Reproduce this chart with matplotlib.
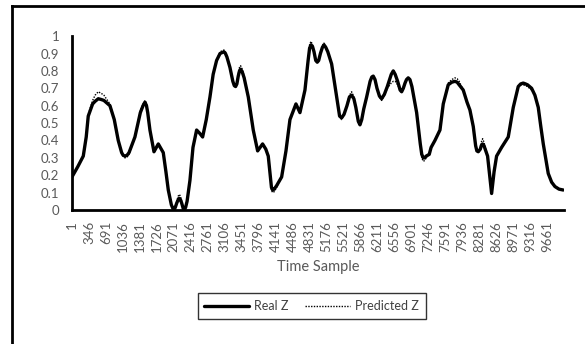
import matplotlib.pyplot as plt
from matplotlib.lines import Line2D

# values (sample index, real Z, predicted Z)
sample = [0, 120, 230, 290, 331, 420, 470, 535, 600, 650,
          772, 860, 941, 1010, 1040, 1077, 1120, 1160, 1280, 1390,
          1445, 1484, 1515, 1540, 1585, 1667, 1755, 1856, 1910, 1958,
          2020, 2050, 2073, 2100, 2130, 2160, 2181, 2205, 2230, 2260,
          2283, 2310, 2340, 2398, 2460, 2534, 2600, 2656, 2730, 2805,
          2870, 2940, 3010, 3050, 3089, 3120, 3150, 3211, 3270, 3300,
          3326, 3352, 3380, 3405, 3428, 3460, 3500, 3584, 3685, 3774,
          3875, 3940, 3990, 4030, 4055, 4079, 4110, 4160, 4262, 4350,
          4431, 4553, 4634, 4736, 4800, 4830, 4858, 4890, 4920, 4955,
          4986, 5015, 5050, 5090, 5122, 5160, 5200, 5278, 5380, 5440,
          5481, 5530, 5590, 5640, 5685, 5730, 5770, 5820, 5854, 5890,
          5930, 5990, 6060, 6095, 6124, 6160, 6200, 6250, 6294, 6350,
          6410, 6490, 6531, 6570, 6620, 6670, 6701, 6735, 6770, 6800,
          6835, 6870, 6910, 7006, 7080, 7110, 7141, 7170, 7200, 7262,
          7300, 7378, 7480, 7547, 7648, 7720, 7784, 7830, 7870, 7953,
          8030, 8089, 8157, 8205, 8230, 8258, 8300, 8320, 8347, 8375,
          8400, 8448, 8490, 8530, 8580, 8631, 8733, 8868, 8970, 9071,
          9120, 9173, 9220, 9260, 9343, 9410, 9478, 9530, 9580, 9681,
          9750, 9817, 9900, 9986]
real_z = [0.19, 0.25, 0.31, 0.42, 0.54, 0.61, 0.625, 0.64, 0.635, 0.63,
          0.60, 0.52, 0.40, 0.33, 0.315, 0.31, 0.315, 0.33, 0.42, 0.56,
          0.60, 0.62, 0.60, 0.56, 0.46, 0.335, 0.38, 0.33, 0.22, 0.115,
          0.03, 0.01, 0.0, 0.015, 0.04, 0.06, 0.067, 0.06, 0.04, 0.01,
          0.0, 0.015, 0.05, 0.17, 0.36, 0.46, 0.44, 0.42, 0.52, 0.65,
          0.78, 0.86, 0.90, 0.905, 0.91, 0.90, 0.88, 0.82, 0.74, 0.715,
          0.71, 0.725, 0.77, 0.80, 0.81, 0.795, 0.76, 0.65, 0.46, 0.34,
          0.38, 0.35, 0.31, 0.20, 0.13, 0.115, 0.12, 0.14, 0.19, 0.34,
          0.52, 0.61, 0.56, 0.69, 0.86, 0.93, 0.95, 0.94, 0.91, 0.86,
          0.85, 0.86, 0.90, 0.935, 0.95, 0.935, 0.91, 0.84, 0.65, 0.54,
          0.53, 0.55, 0.60, 0.65, 0.66, 0.64, 0.59, 0.51, 0.49, 0.52,
          0.58, 0.65, 0.74, 0.765, 0.77, 0.75, 0.70, 0.655, 0.64, 0.665,
          0.71, 0.78, 0.80, 0.78, 0.74, 0.69, 0.68, 0.70, 0.73, 0.75,
          0.76, 0.75, 0.71, 0.56, 0.38, 0.32, 0.30, 0.30, 0.31, 0.32,
          0.36, 0.40, 0.46, 0.61, 0.72, 0.735, 0.74, 0.735, 0.72, 0.69,
          0.62, 0.575, 0.48, 0.37, 0.34, 0.335, 0.35, 0.37, 0.38, 0.37,
          0.35, 0.31, 0.20, 0.095, 0.22, 0.31, 0.36, 0.42, 0.59, 0.71,
          0.725, 0.73, 0.725, 0.72, 0.70, 0.66, 0.59, 0.48, 0.38, 0.21,
          0.16, 0.135, 0.12, 0.115]
pred_z = [0.19, 0.25, 0.31, 0.42, 0.55, 0.63, 0.66, 0.68, 0.67, 0.66,
          0.61, 0.52, 0.40, 0.33, 0.31, 0.30, 0.305, 0.32, 0.42, 0.57,
          0.61, 0.63, 0.61, 0.56, 0.46, 0.33, 0.38, 0.33, 0.22, 0.12,
          0.03, 0.01, 0.0, 0.02, 0.05, 0.08, 0.09, 0.08, 0.05, 0.01,
          0.0, 0.015, 0.05, 0.17, 0.36, 0.46, 0.44, 0.42, 0.52, 0.65,
          0.78, 0.86, 0.91, 0.915, 0.92, 0.91, 0.88, 0.82, 0.74, 0.715,
          0.71, 0.73, 0.78, 0.82, 0.83, 0.81, 0.77, 0.65, 0.46, 0.34,
          0.38, 0.35, 0.31, 0.20, 0.115, 0.10, 0.105, 0.13, 0.19, 0.34,
          0.52, 0.61, 0.56, 0.69, 0.87, 0.95, 0.97, 0.95, 0.91, 0.86,
          0.85, 0.86, 0.91, 0.945, 0.96, 0.94, 0.91, 0.84, 0.65, 0.54,
          0.52, 0.55, 0.61, 0.66, 0.68, 0.65, 0.59, 0.51, 0.49, 0.52,
          0.58, 0.65, 0.74, 0.765, 0.77, 0.75, 0.70, 0.65, 0.63, 0.66,
          0.70, 0.73, 0.74, 0.74, 0.72, 0.69, 0.68, 0.70, 0.73, 0.75,
          0.76, 0.75, 0.71, 0.56, 0.38, 0.30, 0.28, 0.285, 0.30, 0.32,
          0.36, 0.40, 0.46, 0.61, 0.73, 0.75, 0.76, 0.755, 0.74, 0.69,
          0.62, 0.575, 0.48, 0.37, 0.34, 0.33, 0.35, 0.39, 0.41, 0.39,
          0.36, 0.31, 0.20, 0.10, 0.22, 0.31, 0.36, 0.42, 0.59, 0.71,
          0.72, 0.72, 0.715, 0.71, 0.69, 0.66, 0.59, 0.48, 0.38, 0.21,
          0.16, 0.135, 0.12, 0.115]

tick_pos = [1 + 345 * k for k in range(29)]
tick_labels = [str(p) for p in tick_pos]
y_ticks = [0, 0.1, 0.2, 0.3, 0.4, 0.5, 0.6, 0.7, 0.8, 0.9, 1]
y_labels = ['0', '0.1', '0.2', '0.3', '0.4', '0.5', '0.6', '0.7', '0.8', '0.9', '1']

plt.rcParams['font.family'] = ['Lato', 'DejaVu Sans']

fig = plt.figure(figsize=(5.85, 3.44), dpi=100)
ax = fig.add_axes([0.123, 0.3895, 0.841, 0.5055])

ax.plot(sample, real_z, color='black', lw=2.4, solid_joinstyle='round',
        solid_capstyle='round', label='Real Z')
ax.plot(sample, pred_z, color='black', lw=1.0, linestyle=(0, (1, 1)),
        label='Predicted Z')

ax.set_xlim(0, 10000)
ax.set_ylim(0, 1)
ax.set_yticks(y_ticks)
ax.set_yticklabels(y_labels)
ax.set_xticks(tick_pos)
ax.set_xticklabels(tick_labels, rotation=90)
ax.tick_params(axis='both', length=0, labelsize=9.5, colors='#595959')
ax.tick_params(axis='y', pad=9)
ax.tick_params(axis='x', pad=8)

for side in ['top', 'right']:
    ax.spines[side].set_visible(False)
for side in ['left', 'bottom']:
    ax.spines[side].set_linewidth(2)
    ax.spines[side].set_color('black')

ax.set_xlabel('Time Sample', fontsize=10.5, color='#595959', labelpad=6)

leg = fig.legend(loc='center', bbox_to_anchor=(0.533, 0.11), ncol=2, fontsize=9,
                 frameon=True, fancybox=False, edgecolor='black', handlelength=3.6,
                 borderpad=0.55, columnspacing=1.3, handletextpad=0.4)
leg.get_frame().set_linewidth(1.0)
for t in leg.get_texts():
    t.set_color('#404040')

# outer chart border (only left and top visible in the crop)
fig.add_artist(Line2D([12 / 585, 12 / 585], [0, 1 - 6 / 344], color='black', lw=2,
                      transform=fig.transFigure))
fig.add_artist(Line2D([12 / 585, 1], [1 - 6 / 344, 1 - 6 / 344], color='black', lw=2,
                      transform=fig.transFigure))

fig.savefig('out.png', dpi=100)
